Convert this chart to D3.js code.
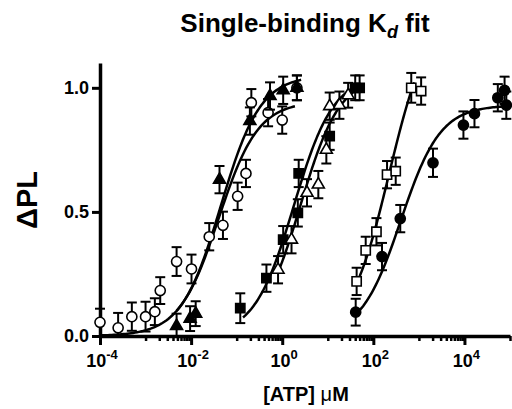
<!DOCTYPE html>
<html>
<head>
<meta charset="utf-8">
<script src="https://cdn.jsdelivr.net/npm/d3@7"></script>
<style>
body { margin: 0; background: #fff; }
svg text { font-family: "Liberation Sans", Arial, sans-serif; font-weight: bold; fill: #000; }
</style>
</head>
<body>
<svg width="512" height="409"></svg>
<script>
// [ATP] (uM) and dPL for every data set
var openCircleX = [1e-4, 2.5e-4, 5e-4, 1e-3, 1.6e-3, 2.1e-3, 4.8e-3, 1.02e-2, 2.5e-2, 5e-2, 0.105, 0.16, 0.21, 0.49, 1.0, 2.1];
var openCircleY = [0.055, 0.033, 0.078, 0.078, 0.098, 0.183, 0.30, 0.27, 0.40, 0.446, 0.563, 0.655, 0.94, 0.90, 0.87, 1.0];
var openCircleErr = [0.055, 0.06, 0.057, 0.06, 0.054, 0.054, 0.058, 0.058, 0.055, 0.055, 0.055, 0.055, 0.055, 0.055, 0.055, 0.05];

var fillTriX = [4.8e-3, 9.5e-3, 1.26e-2, 4.2e-2, 0.195, 0.54, 1.05, 2.1];
var fillTriY = [0.04, 0.07, 0.09, 0.63, 0.866, 0.967, 0.99, 1.0];
var fillTriErr = [0.05, 0.05, 0.05, 0.055, 0.055, 0.055, 0.055, 0.05];

var fillSqX = [0.12, 0.45, 1.05, 2.2, 2.3, 11, 40, 50];
var fillSqY = [0.112, 0.233, 0.388, 0.496, 0.655, 0.805, 1.0, 1.0];
var fillSqErr = [0.06, 0.055, 0.055, 0.055, 0.055, 0.055, 0.05, 0.05];

var openTriX = [0.81, 1.6, 3.5, 6.2, 9.3, 11, 18, 28];
var openTriY = [0.267, 0.388, 0.577, 0.61, 0.75, 0.926, 0.93, 0.97];
var openTriErr = [0.055, 0.055, 0.055, 0.055, 0.055, 0.055, 0.055, 0.05];

var openSqX = [43, 68, 117, 200, 310, 680, 1120];
var openSqY = [0.22, 0.345, 0.42, 0.65, 0.664, 1.0, 0.987];
var openSqErr = [0.055, 0.055, 0.055, 0.055, 0.055, 0.06, 0.055];

var fillCircX = [41, 155, 390, 2040, 9500, 16600, 54000, 76000, 83000];
var fillCircY = [0.096, 0.32, 0.473, 0.698, 0.85, 0.896, 0.96, 0.99, 0.93];
var fillCircErr = [0.054, 0.055, 0.055, 0.057, 0.055, 0.055, 0.055, 0.055, 0.055];

// single-site binding fit parameters, same order as the sets
var fitKd = [0.04, 0.045, 1.8, 2.5, 223, 400];
var fitBmax = [0.945, 1.05, 1.05, 1.05, 1.31, 0.93];
var fitFrom = [1e-4, 4.8e-3, 0.138, 0.81, 43, 41];
var fitTo = [1.9, 2.6, 50, 45, 790, 1e5];

var yTicks = [0, 0.5, 1.0];
var xMajorExp = [-4, -2, 0, 2, 4];

var sets = [
  {x: openCircleX, y: openCircleY, err: openCircleErr, shape: d3.symbolCircle, filled: false},
  {x: fillTriX, y: fillTriY, err: fillTriErr, shape: d3.symbolTriangle, filled: true},
  {x: fillSqX, y: fillSqY, err: fillSqErr, shape: d3.symbolSquare, filled: true},
  {x: openTriX, y: openTriY, err: openTriErr, shape: d3.symbolTriangle, filled: false},
  {x: openSqX, y: openSqY, err: openSqErr, shape: d3.symbolSquare, filled: false},
  {x: fillCircX, y: fillCircY, err: fillCircErr, shape: d3.symbolCircle, filled: true}
];

var svg = d3.select("svg");

var x = d3.scaleLog().domain([1e-4, 1e5]).range([100, 510]),
    y = d3.scaleLinear().domain([0, 1.1]).range([336, 63]);

// title
var title = svg.append("text")
    .attr("x", 305)
    .attr("y", 32)
    .attr("text-anchor", "middle")
    .style("font-size", "26px");
title.append("tspan").text("Single-binding K");
title.append("tspan").attr("dy", 6).style("font-size", "18px").style("font-style", "italic").text("d");
title.append("tspan").attr("dy", -6).text(" fit");

// axes
var majors = xMajorExp.map(function(e) { return Math.pow(10, e); });
var minors = [];
xMajorExp.forEach(function(e) {
  for (var k = 1; k <= 9; k++) {
    var v = k * Math.pow(10, e + 1);
    if (v <= 1e5) minors.push(v);
  }
});

svg.append("g")
    .attr("transform", "translate(0,336)")
    .call(d3.axisBottom(x).tickValues(minors).tickSize(5).tickSizeOuter(0).tickFormat(""))
    .call(function(g) { g.select(".domain").remove(); g.selectAll("line").attr("stroke-width", 2.5); });

var xAxis = svg.append("g")
    .attr("transform", "translate(0,336)")
    .call(d3.axisBottom(x).tickValues(majors).tickSize(9).tickSizeOuter(0).tickFormat(""));
xAxis.select(".domain").attr("stroke-width", 3.5);
xAxis.selectAll("line").attr("stroke-width", 3);

svg.selectAll(".xlab")
    .data(xMajorExp)
  .enter().append("text")
    .attr("class", "xlab")
    .attr("x", function(e) { return x(Math.pow(10, e)) + 2; })
    .attr("y", 367)
    .attr("text-anchor", "middle")
    .style("font-size", "18px")
    .each(function(e) {
      var t = d3.select(this);
      t.append("tspan").text("10");
      t.append("tspan").attr("dy", -8).style("font-size", "13px").text(e < 0 ? "-" + (-e) : e);
    });

var yAxis = svg.append("g")
    .attr("transform", "translate(100,0)")
    .call(d3.axisLeft(y).tickValues(yTicks).tickSize(8).tickSizeOuter(0).tickPadding(3).tickFormat(d3.format(".1f")));
yAxis.select(".domain").attr("stroke-width", 3.5);
yAxis.selectAll("line").attr("stroke-width", 3);
yAxis.selectAll("text")
    .style("font-family", "'Liberation Sans', Arial, sans-serif")
    .style("font-weight", "bold")
    .style("font-size", "18px");

svg.append("text")
    .attr("transform", "translate(37,200) rotate(-90)")
    .attr("text-anchor", "middle")
    .style("font-size", "29px")
    .text("\u0394PL");

var xt = svg.append("text")
    .attr("x", 306)
    .attr("y", 401)
    .attr("text-anchor", "middle")
    .style("font-size", "20px");
xt.append("tspan").text("[ATP] ");
xt.append("tspan").style("font-weight", "normal").text("\u03bc");
xt.append("tspan").text("M");

// fitted curves
var line = d3.line()
    .x(function(d) { return x(d[0]); })
    .y(function(d) { return y(d[1]); });

sets.forEach(function(s, i) {
  var lo = Math.log10(fitFrom[i]), hi = Math.log10(fitTo[i]);
  var pts = d3.range(0, 101).map(function(j) {
    var c = Math.pow(10, lo + (hi - lo) * j / 100);
    return [c, fitBmax[i] * c / (fitKd[i] + c)];
  });
  svg.append("path")
      .attr("d", line(pts))
      .attr("fill", "none")
      .attr("stroke", "#000")
      .attr("stroke-width", 2.5);
});

// error bars and symbols
sets.forEach(function(s) {
  var pts = s.x.map(function(v, j) { return {x: v, y: s.y[j], e: s.err[j]}; });
  var g = svg.append("g");

  var eb = g.selectAll(".eb").data(pts).enter().append("g").attr("class", "eb");
  eb.append("line")
      .attr("x1", function(d) { return x(d.x); })
      .attr("x2", function(d) { return x(d.x); })
      .attr("y1", function(d) { return y(Math.max(0, d.y - d.e)); })
      .attr("y2", function(d) { return y(d.y + d.e); })
      .attr("stroke", "#000").attr("stroke-width", 2);
  eb.append("line")
      .attr("x1", function(d) { return x(d.x) - 5; })
      .attr("x2", function(d) { return x(d.x) + 5; })
      .attr("y1", function(d) { return y(d.y + d.e); })
      .attr("y2", function(d) { return y(d.y + d.e); })
      .attr("stroke", "#000").attr("stroke-width", 2);
  eb.filter(function(d) { return d.y - d.e > 0; }).append("line")
      .attr("x1", function(d) { return x(d.x) - 5; })
      .attr("x2", function(d) { return x(d.x) + 5; })
      .attr("y1", function(d) { return y(d.y - d.e); })
      .attr("y2", function(d) { return y(d.y - d.e); })
      .attr("stroke", "#000").attr("stroke-width", 2);

  var size = s.shape === d3.symbolTriangle ? 62 : (s.shape === d3.symbolSquare ? 85 : 80);
  g.selectAll(".pt").data(pts).enter().append("path")
      .attr("class", "pt")
      .attr("transform", function(d) { return "translate(" + x(d.x) + "," + y(d.y) + ")"; })
      .attr("d", d3.symbol().type(s.shape).size(size))
      .attr("fill", s.filled ? "#000" : "#fff")
      .attr("stroke", "#000")
      .attr("stroke-width", 1.6);
});
</script>
</body>
</html>
